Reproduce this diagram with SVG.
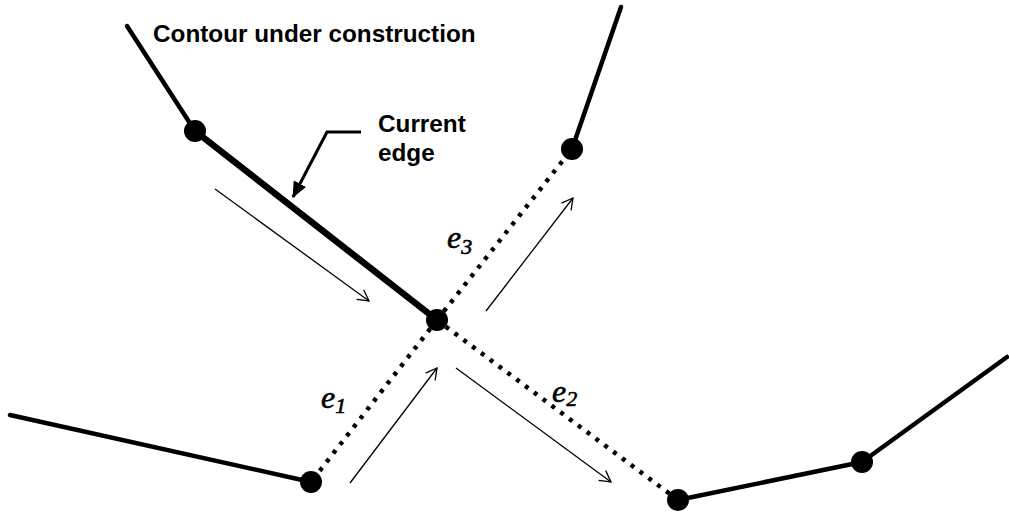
<svg xmlns="http://www.w3.org/2000/svg" width="1009" height="514" viewBox="0 0 1009 514">
<style>
.solid{stroke:#000;stroke-width:4.5;fill:none;stroke-linecap:round}
.thick{stroke:#000;stroke-width:6.5;fill:none;stroke-linecap:round}
.dot{stroke:#000;stroke-width:4.5;fill:none;stroke-dasharray:4 7}
.thin{stroke:#000;stroke-width:1.3;fill:none}
.node{fill:#000}
.lbl{font-family:"Liberation Sans",Arial,sans-serif;font-size:24.3px;font-weight:bold;fill:#000}
.math{font-family:"Liberation Serif","Times New Roman",serif;font-style:italic;fill:#000;stroke:#000;stroke-width:0.6}
</style>
<defs>
<marker id="open" viewBox="0 0 14 14" refX="12" refY="7" markerWidth="14" markerHeight="14" markerUnits="userSpaceOnUse" orient="auto">
<path d="M1,1 L12,7 L1,13" fill="none" stroke="#000" stroke-width="1.3"/>
</marker>
<marker id="filled" viewBox="0 0 16 14" refX="15" refY="7" markerWidth="16" markerHeight="14" markerUnits="userSpaceOnUse" orient="auto">
<path d="M0,0 L16,7 L0,14 Z" fill="#000"/>
</marker>
</defs>
<g id="connectors">
<line class="solid" x1="127" y1="26" x2="195" y2="131"/>
<line class="thick" x1="195" y1="131" x2="437" y2="320"/>
<line class="solid" x1="572" y1="149" x2="621" y2="7"/>
<line class="solid" x1="10" y1="415" x2="311" y2="482"/>
<line class="solid" x1="678" y1="500" x2="862" y2="462"/>
<line class="solid" x1="862" y1="462" x2="1007" y2="357"/>
<line class="dot" x1="437" y1="320" x2="572" y2="149"/>
<line class="dot" x1="437" y1="320" x2="311" y2="482"/>
<line class="dot" x1="437" y1="320" x2="678" y2="500"/>
<line class="thin" x1="215" y1="189" x2="369" y2="301" marker-end="url(#open)"/>
<line class="thin" x1="486" y1="311" x2="573" y2="198" marker-end="url(#open)"/>
<line class="thin" x1="350" y1="483" x2="437" y2="368" marker-end="url(#open)"/>
<line class="thin" x1="456" y1="368" x2="611" y2="482" marker-end="url(#open)"/>
<polyline points="361,132 327,132 293,197" fill="none" stroke="#000" stroke-width="3" marker-end="url(#filled)"/>
</g>
<g id="n-topleft"><circle class="node" cx="195" cy="131" r="11"/></g>
<g id="n-center"><circle class="node" cx="437" cy="320" r="11"/></g>
<g id="n-topright"><circle class="node" cx="572" cy="149" r="11"/></g>
<g id="n-bottomleft"><circle class="node" cx="311" cy="482" r="11"/></g>
<g id="n-bottom"><circle class="node" cx="678" cy="500" r="11"/></g>
<g id="n-right"><circle class="node" cx="862" cy="462" r="11"/></g>
<g id="labels">
<text class="math" x="447" y="248" font-size="32">e<tspan font-size="22" dy="6">3</tspan></text>
<text class="math" x="321" y="408" font-size="32">e<tspan font-size="22" dy="5">1</tspan></text>
<text class="math" x="552" y="402" font-size="32">e<tspan font-size="22" dy="4">2</tspan></text>
<text class="lbl" x="153" y="42">Contour under construction</text>
<text class="lbl" x="378" y="132">Current</text>
<text class="lbl" x="378" y="161">edge</text>
</g>
</svg>
